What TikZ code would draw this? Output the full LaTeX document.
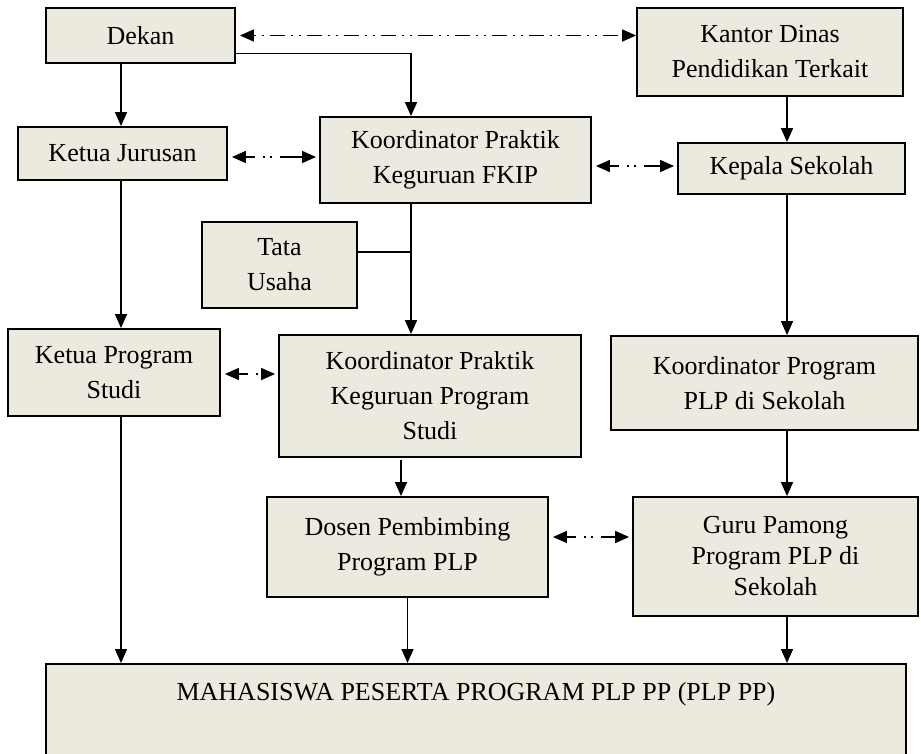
\documentclass[tikz,border=0pt]{standalone}
\usepackage{fontspec}
\setmainfont{Liberation Serif}
\usetikzlibrary{arrows.meta,calc}
\definecolor{boxfill}{RGB}{236,233,223}
\begin{document}
\begin{tikzpicture}[x=1pt,y=-1pt,
  box/.style={draw=black, line width=1.8pt, fill=boxfill, inner sep=0pt, align=center,
    font=\fontsize{26}{35}\selectfont},
  arr/.style={line width=1.5pt, -{Triangle[length=14pt,width=12pt]}},
  dbl/.style={line width=1.5pt, {Triangle[length=14pt,width=12pt]}-{Triangle[length=14pt,width=12pt]},
    dash pattern=on 9pt off 8pt on 2pt off 5pt on 2pt off 8pt on 40pt off 1pt,
    shorten <=4pt, shorten >=3pt},
  longdbl/.style={line width=1.5pt, {Triangle[length=14pt,width=12pt]}-{Triangle[length=14pt,width=12pt]},
    dash pattern=on 2pt off 6pt on 2pt off 6pt on 15pt off 6pt, shorten <=4pt}
]
\useasboundingbox (0,0) rectangle (921,754);
\clip (0,0) rectangle (921,754);

% boxes
\node[box, minimum width=189pt, minimum height=55pt] (dekan) at (140.5,35.5) {Dekan};
\node[box, minimum width=266pt, minimum height=88pt] (kantor) at (770,52) {Kantor Dinas\\Pendidikan Terkait};
\node[box, minimum width=209pt, minimum height=53pt] (ketuaj) at (122.5,153.5) {Ketua Jurusan};
\node[box, minimum width=271pt, minimum height=86pt] (koordf) at (455.5,160) {Koordinator Praktik\\Keguruan FKIP};
\node[box, minimum width=227pt, minimum height=51pt] (kepala) at (791.5,168.5) {Kepala Sekolah};
\node[box, minimum width=155pt, minimum height=86pt] (tata) at (279.5,265) {Tata\\Usaha};
\node[box, minimum width=212pt, minimum height=87pt] (ketuaps) at (114,372.5) {Ketua Program\\Studi};
\node[box, minimum width=302pt, minimum height=122pt] (koordps) at (430,396) {Koordinator Praktik\\Keguruan Program\\Studi};
\node[box, minimum width=307pt, minimum height=94pt] (koordprog) at (764.5,383) {Koordinator Program\\PLP di Sekolah};
\node[box, minimum width=281pt, minimum height=100pt] (dosen) at (407.5,547) {Dosen Pembimbing\\Program PLP};
\node[box, minimum width=285pt, minimum height=119pt, font=\fontsize{26}{31}\selectfont] (guru) at (775.5,556.5) {Guru Pamong\\Program PLP di\\Sekolah};
\node[box, minimum width=860pt, text height=37pt, text depth=90pt, anchor=north] (maha) at (476,663) {MAHASISWA PESERTA PROGRAM PLP PP (PLP PP)};

% solid connectors
\draw[arr] ([xshift=-19.5pt]dekan.south) -- ([xshift=-19.5pt]dekan.south |- ketuaj.north);
\coordinate (trunk) at ([xshift=-44.5pt]koordf.north);
\draw[arr] ([yshift=-18pt]dekan.east) -| (trunk);
\draw[arr] ([xshift=-4.5pt]kepala.north |- kantor.south) -- ([xshift=-4.5pt]kepala.north);
\draw[arr] ([xshift=-44.5pt]koordf.south) -- ([xshift=-44.5pt]koordf.south |- koordps.north);
\draw[line width=1.5pt] ([yshift=13pt]tata.east) -- ([yshift=13pt]tata.east -| trunk);
\draw[arr] ([xshift=-1.5pt]ketuaj.south) -- ([xshift=-1.5pt]ketuaj.south |- ketuaps.north);
\draw[arr] ([xshift=-4.5pt]kepala.south) -- ([xshift=-4.5pt]kepala.south |- koordprog.north);
\draw[arr, shorten <=2pt] ([xshift=-29pt]koordps.south) -- ([xshift=-29pt]koordps.south |- dosen.north);
\draw[arr] ([xshift=22.5pt]koordprog.south) -- ([xshift=22.5pt]koordprog.south |- guru.north);
\draw[arr] ([xshift=7pt]ketuaps.south) -- ([xshift=7pt]ketuaps.south |- maha.north);
\draw[arr] (dosen.south) -- (dosen.south |- maha.north);
\draw[arr] ([xshift=11.5pt]guru.south) -- ([xshift=11.5pt]guru.south |- maha.north);

% dash-dotted two-way connectors
\draw[longdbl] (dekan.east) -- (dekan.east -| kantor.west);
\draw[dbl] ([yshift=-3.5pt]ketuaj.east) -- ([yshift=-3.5pt]ketuaj.east -| koordf.west);
\draw[dbl] ([yshift=-6pt]koordf.east) -- ([yshift=-6pt]koordf.east -| kepala.west);
\draw[dbl] ([yshift=-1.5pt]ketuaps.east) -- ([yshift=-1.5pt]ketuaps.east -| koordps.west);
\draw[dbl] ([yshift=10pt]dosen.east) -- ([yshift=10pt]dosen.east -| guru.west);
\end{tikzpicture}
\end{document}
